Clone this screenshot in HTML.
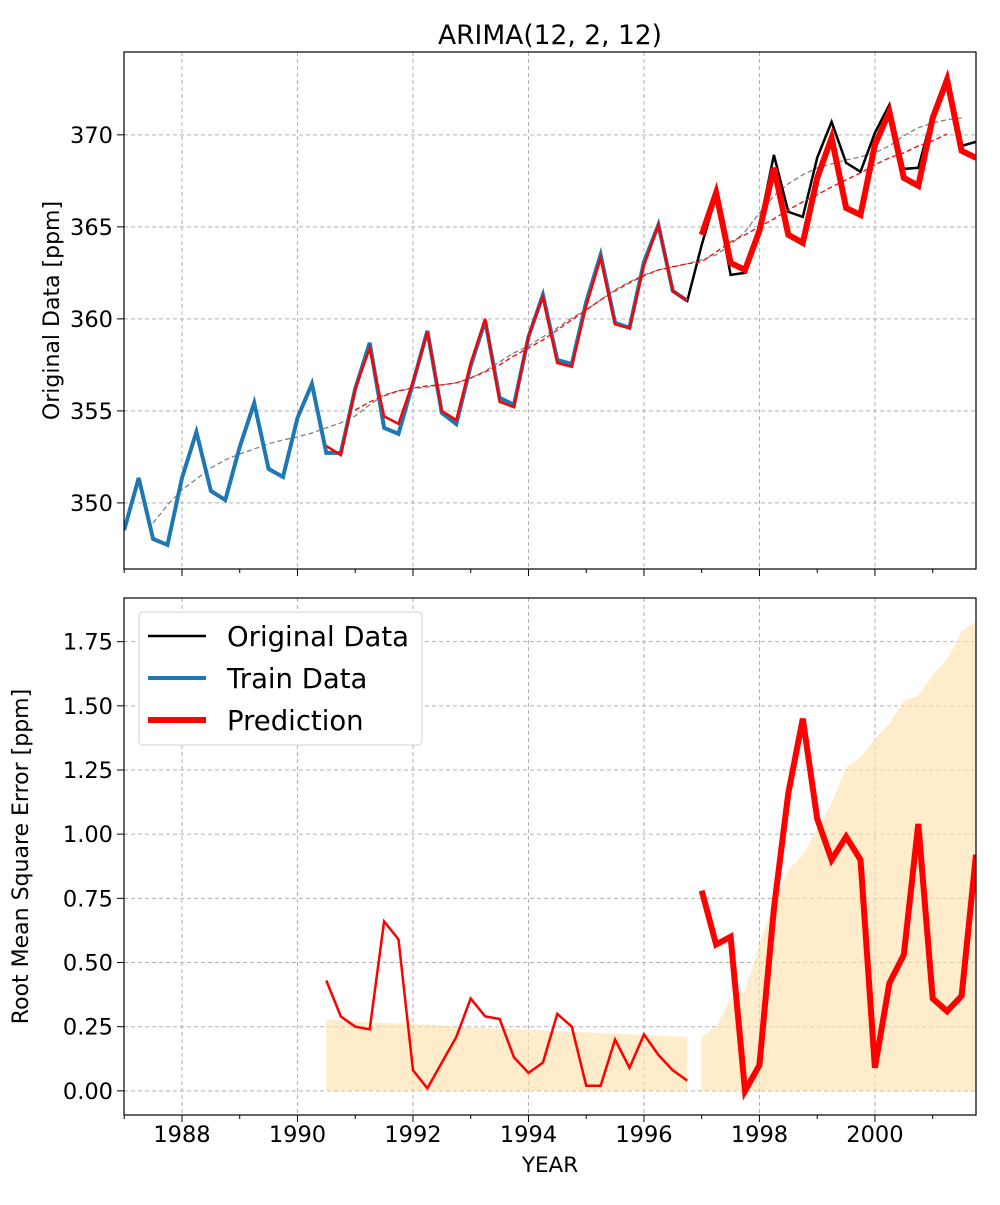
<!DOCTYPE html>
<html><head><meta charset="utf-8"><style>
body{margin:0;background:#fff;}
svg text{font-family:"DejaVu Sans","Liberation Sans",sans-serif;fill:#000;}
</style></head><body>
<svg id="chart" width="1000" height="1200" viewBox="0 0 1000 1200" xmlns="http://www.w3.org/2000/svg">
<rect width="1000" height="1200" fill="#fff"/>
<g id="top"></g>
<g id="bot"></g>
</svg>
<script>
const original=[348.53,351.36,348.04,347.72,351.36,353.86,350.65,350.16,353.04,355.43,351.85,351.41,354.62,356.47,352.72,352.72,356.20,358.70,354.08,353.75,356.52,359.35,354.89,354.29,357.45,359.89,355.71,355.33,359.02,361.30,357.77,357.55,360.92,363.48,359.78,359.51,363.10,365.11,361.52,360.98,364.02,366.68,362.39,362.50,365.05,368.91,365.82,365.54,368.75,370.71,368.48,367.99,370.11,371.63,368.15,368.21,371.14,373.26,369.40,369.62];
const trainCount=40;
const fitted=[353.1,352.6,356.2,358.4,354.7,354.3,356.6,359.3,355.0,354.5,357.6,360.0,355.5,355.2,359.1,361.2,357.6,357.4,360.7,363.3,359.7,359.5,362.9,365.1,361.5,361.0];
const prediction=[364.57,366.85,363.04,362.66,364.78,368.21,364.57,364.13,367.66,369.84,366.03,365.65,369.46,371.25,367.66,367.23,370.92,372.99,369.13,368.75];
const origMA=[348.91,349.89,350.71,351.30,351.90,352.34,352.66,352.93,353.21,353.42,353.59,353.80,354.08,354.35,354.73,355.33,355.87,356.09,356.20,356.30,356.41,356.52,356.79,357.17,357.66,358.15,358.53,359.02,359.51,360.05,360.49,361.03,361.58,362.01,362.39,362.66,362.83,362.99,363.21,363.48,364.02,364.73,365.76,366.68,367.34,367.83,368.21,368.42,368.64,368.80,369.02,369.40,369.95,370.38,370.65,370.82,370.92];
const predMA=[355.05,355.49,355.82,356.09,356.25,356.36,356.41,356.52,356.79,357.12,357.50,357.99,358.42,358.86,359.40,359.95,360.49,361.03,361.52,361.96,362.34,362.66,362.83,362.99,363.10,363.64,364.18,364.57,365.00,365.43,365.92,366.36,366.74,367.17,367.55,367.93,368.37,368.75,369.02,369.40,369.67,370.05];
const rmseFit=[0.43,0.29,0.25,0.24,0.66,0.59,0.08,0.01,0.11,0.21,0.36,0.29,0.28,0.13,0.07,0.11,0.30,0.25,0.02,0.02,0.20,0.09,0.22,0.14,0.08,0.04];
const rmsePred=[0.78,0.57,0.60,0.00,0.10,0.71,1.16,1.45,1.06,0.90,0.99,0.90,0.09,0.42,0.53,1.04,0.36,0.31,0.37,0.92];
const bandFit=[0.28,0.275,0.27,0.268,0.265,0.262,0.26,0.258,0.255,0.25,0.248,0.245,0.242,0.24,0.238,0.235,0.232,0.23,0.228,0.225,0.222,0.22,0.218,0.215,0.213,0.21];
const bandPred=[0.21,0.25,0.36,0.39,0.57,0.73,0.86,0.92,1.02,1.12,1.26,1.30,1.37,1.43,1.52,1.54,1.62,1.68,1.79,1.83];
const xTicks=[1988,1990,1992,1994,1996,1998,2000];
const xMinor=[1987,1989,1991,1993,1995,1997,1999,2001];
const topTicks=[350,355,360,365,370];
const botTicks=[0,0.25,0.5,0.75,1.0,1.25,1.5,1.75];
const botTickLabels=["0.00","0.25","0.50","0.75","1.00","1.25","1.50","1.75"];
const startYear=1987.0, fitStart=1990.5, predStart=1997.0, origMAStart=1987.5, predMAStart=1991.0;

const NS="http://www.w3.org/2000/svg";
const L=124,R=976;
const XMIN=1986.996,XMAX=2001.75;
const xs=y=>L+(y-XMIN)/(XMAX-XMIN)*(R-L);
const T={t:52,b:569,min:346.41,max:374.5};
const B={t:598,b:1115,min:-0.094,max:1.92};
const ys=(p,v)=>p.b-(v-p.min)/(p.max-p.min)*(p.b-p.t);
function el(parent,tag,attrs,txt){const e=document.createElementNS(NS,tag);for(const k in attrs)e.setAttribute(k,attrs[k]);if(txt!==undefined)e.textContent=txt;parent.appendChild(e);return e;}
function pts(arr,start,p){return arr.map((v,i)=>xs(start+i*0.25).toFixed(1)+","+ys(p,v).toFixed(1)).join(" ");}

function panel(g,p,yt,ylabels,ylab,showX,ylabX){
  const cid="clip"+p.t;
  const defs=el(g,"defs",{});const cp=el(defs,"clipPath",{id:cid});el(cp,"rect",{x:L,y:p.t,width:R-L,height:p.b-p.t});
  const grid=el(g,"g",{});
  
  
  xTicks.forEach(t=>el(grid,"line",{x1:xs(t),x2:xs(t),y1:p.t,y2:p.b,stroke:"#b0b0b0","stroke-dasharray":"4,3","stroke-width":1}));
  yt.forEach(t=>el(grid,"line",{x1:L,x2:R,y1:ys(p,t),y2:ys(p,t),stroke:"#b0b0b0","stroke-dasharray":"4,3","stroke-width":1}));
  const ax=el(g,"g",{});
  
  
  xTicks.forEach(t=>{el(ax,"line",{x1:xs(t),x2:xs(t),y1:p.b,y2:p.b+7,stroke:"#000"});
    if(showX){const tx=el(ax,"text",{x:xs(t),y:p.b+27,"font-size":22.5,"text-anchor":"middle"},String(t));
      
      }});
  xMinor.forEach(t=>el(ax,"line",{x1:xs(t),x2:xs(t),y1:p.b,y2:p.b+4,stroke:"#000"}));
  yt.forEach((t,i)=>{el(ax,"line",{x1:L-7,x2:L,y1:ys(p,t),y2:ys(p,t),stroke:"#000"});
    const tx=el(ax,"text",{x:L-11,y:ys(p,t)+8,"font-size":22.5,"text-anchor":"end"},ylabels[i]);
    
    });
  const yl=el(g,"text",{x:0,y:0,"font-size":22,"text-anchor":"middle",transform:`translate(${ylabX},${(p.t+p.b)/2}) rotate(-90)`},ylab);
  
  
  const plot=el(g,"g",{"clip-path":`url(#${cid})`});
  return {plot,ax};
}

const tg=document.getElementById("top");
const tp=panel(tg,T,topTicks,topTicks.map(String),"Original Data [ppm]",false,59);
let e;
e=el(tp.plot,"polyline",{points:pts(origMA,origMAStart,T),fill:"none",stroke:"#808080","stroke-width":1.3,"stroke-dasharray":"5,3"});


e=el(tp.plot,"polyline",{points:pts(original,startYear,T),fill:"none",stroke:"#000","stroke-width":2.5});


e=el(tp.plot,"polyline",{points:pts(original.slice(0,trainCount),startYear,T),fill:"none",stroke:"#1f77b4","stroke-width":4});


e=el(tp.plot,"polyline",{points:pts(fitted,fitStart,T),fill:"none",stroke:"#ff0000","stroke-width":2.5});


e=el(tp.plot,"polyline",{points:pts(predMA,predMAStart,T),fill:"none",stroke:"#ff0000","stroke-width":1.3,"stroke-dasharray":"5,3"});


e=el(tp.plot,"polyline",{points:pts(prediction,predStart,T),fill:"none",stroke:"#ff0000","stroke-width":6});


el(tg,"rect",{x:L,y:T.t,width:R-L,height:T.b-T.t,fill:"none",stroke:"#000","stroke-width":1.2});
e=el(tg,"text",{x:(L+R)/2,y:44,"font-size":26.5,"text-anchor":"middle"},"ARIMA(12, 2, 12)");



const bg=document.getElementById("bot");
const bp=panel(bg,B,botTicks,botTickLabels,"Root Mean Square Error [ppm]",true,28);
function band(arr,start){const top=pts(arr,start,B);const x0=xs(start),x1=xs(start+(arr.length-1)*0.25),y0=ys(B,0);return top+` ${x1.toFixed(1)},${y0} ${x0.toFixed(1)},${y0}`;}
e=el(bp.plot,"polygon",{points:band(bandFit,fitStart),fill:"#ffe0a8",opacity:0.6});


e=el(bp.plot,"polygon",{points:band(bandPred,predStart),fill:"#ffe0a8",opacity:0.6});


e=el(bp.plot,"polyline",{points:pts(rmseFit,fitStart,B),fill:"none",stroke:"#ff0000","stroke-width":2.5});


e=el(bp.plot,"polyline",{points:pts(rmsePred,predStart,B),fill:"none",stroke:"#ff0000","stroke-width":6});


el(bg,"rect",{x:L,y:B.t,width:R-L,height:B.b-B.t,fill:"none",stroke:"#000","stroke-width":1.2});
e=el(bg,"text",{x:(L+R)/2,y:1172,"font-size":21.5,"text-anchor":"middle"},"YEAR");



const lg=el(bg,"g",{});


el(lg,"rect",{x:139,y:612,width:283,height:133,rx:4,fill:"#fff",stroke:"#d0d0d0","stroke-width":1});
const items=[["Original Data","#000",2.5,636],["Train Data","#1f77b4",4,678],["Prediction","#ff0000",6,720]];
items.forEach(it=>{const g=el(lg,"g",{});
  
  
  el(g,"line",{x1:148,x2:206,y1:it[3],y2:it[3],stroke:it[1],"stroke-width":it[2]});
  el(g,"text",{x:227,y:it[3]+10,"font-size":27.5},it[0]);});
</script>
</body></html>
